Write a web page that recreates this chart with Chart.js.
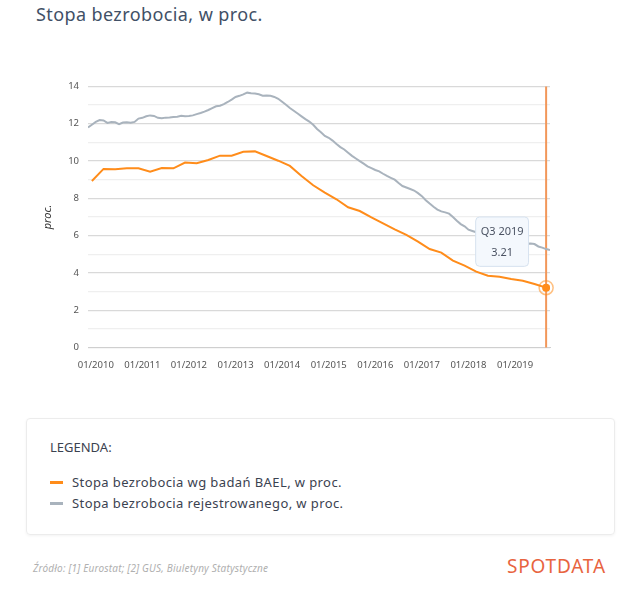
<!DOCTYPE html>
<html lang="pl">
<head>
<meta charset="utf-8">
<title>Stopa bezrobocia, w proc.</title>
<script src="https://cdn.jsdelivr.net/npm/chart.js@4.4.1/dist/chart.umd.min.js"></script>
<style>
  html, body { margin: 0; padding: 0; background: #fff; }
  body { width: 640px; height: 594px; position: relative; overflow: hidden; font-family: 'Noto Sans', sans-serif; }
  .title { position: absolute; left: 36px; top: 3px; font-size: 18px; line-height: 22px; letter-spacing: 0.4px; color: #415066; }
  .chart-box { position: absolute; left: 20px; top: 70px; width: 545px; height: 305px; }
  .legend-card { position: absolute; left: 26px; top: 418px; width: 587px; height: 115px; border: 1px solid #ececec; border-radius: 4px; box-shadow: 0 1px 3px rgba(0, 0, 0, 0.05); }
  .legend-head { position: absolute; left: 23px; top: 19px; font-size: 13px; line-height: 18px; color: #3b4250; }
  .legend-item { position: absolute; left: 23px; font-size: 13px; line-height: 18px; letter-spacing: 0.4px; color: #3b4250; }
  .legend-item i { display: inline-block; width: 13px; height: 3px; margin-right: 9px; vertical-align: middle; position: relative; top: -1px; }
  .source { position: absolute; left: 33px; top: 561px; font-size: 10px; line-height: 14px; letter-spacing: 0.2px; font-style: italic; color: #b0b0b0; }
  .logo { position: absolute; left: 507px; top: 554px; font-size: 19px; line-height: 24px; letter-spacing: 0.8px; color: #e8643f; }
</style>
</head>
<body>
<div class="title">Stopa bezrobocia, w proc.</div>
<div class="chart-box"><canvas id="chart"></canvas></div>
<div class="legend-card">
  <div class="legend-head">LEGENDA:</div>
  <div class="legend-item" style="top: 54px;"><i style="background: #ff8c1a;"></i>Stopa bezrobocia wg badań BAEL, w proc.</div>
  <div class="legend-item" style="top: 75px;"><i style="background: #a9b3bd;"></i>Stopa bezrobocia rejestrowanego, w proc.</div>
</div>
<div class="source">Źródło: [1] Eurostat; [2] GUS, Biuletyny Statystyczne</div>
<div class="logo">SPOTDATA</div>

<script>
// kwartały BAEL (Eurostat)
const quarterLabels = [
  'Q4 2009',
  'Q1 2010', 'Q2 2010', 'Q3 2010', 'Q4 2010',
  'Q1 2011', 'Q2 2011', 'Q3 2011', 'Q4 2011',
  'Q1 2012', 'Q2 2012', 'Q3 2012', 'Q4 2012',
  'Q1 2013', 'Q2 2013', 'Q3 2013', 'Q4 2013',
  'Q1 2014', 'Q2 2014', 'Q3 2014', 'Q4 2014',
  'Q1 2015', 'Q2 2015', 'Q3 2015', 'Q4 2015',
  'Q1 2016', 'Q2 2016', 'Q3 2016', 'Q4 2016',
  'Q1 2017', 'Q2 2017', 'Q3 2017', 'Q4 2017',
  'Q1 2018', 'Q2 2018', 'Q3 2018', 'Q4 2018',
  'Q1 2019', 'Q2 2019', 'Q3 2019',
];
const baelValues = [
  8.93,
  9.58, 9.56, 9.61, 9.61,
  9.43, 9.63, 9.61, 9.92,
  9.88, 10.06, 10.29, 10.29,
  10.5, 10.52, 10.27, 10.02,
  9.74, 9.2, 8.7, 8.31,
  7.95, 7.52, 7.32, 6.98,
  6.66, 6.34, 6.04, 5.68,
  5.28, 5.09, 4.66, 4.39,
  4.07, 3.85, 3.8, 3.67,
  3.58, 3.41, 3.21,
];

// bezrobocie rejestrowane (GUS), miesięcznie od 11/2009
const registeredStart = -2; // miesiące względem 01/2010
const registeredValues = [
  11.80, 11.95,
  12.10, 12.20, 12.18, 12.05, 12.10, 12.08, 11.98, 12.07, 12.08, 12.06, 12.10, 12.28,
  12.32, 12.40, 12.45, 12.42, 12.32, 12.30, 12.33, 12.34, 12.36, 12.38, 12.43, 12.40,
  12.42, 12.45, 12.52, 12.58, 12.65, 12.74, 12.84, 12.94, 12.97, 13.05, 13.17, 13.30,
  13.44, 13.50, 13.58, 13.67, 13.64, 13.62, 13.58, 13.51, 13.52, 13.50, 13.44, 13.34,
  13.18, 13.02, 12.85, 12.70, 12.55, 12.40, 12.25, 12.12, 11.95, 11.72, 11.55, 11.35,
  11.25, 11.10, 10.92, 10.75, 10.62, 10.45, 10.28, 10.14, 10.00, 9.86, 9.72, 9.62,
  9.52, 9.45, 9.32, 9.20, 9.10, 9.00, 8.82, 8.66, 8.58, 8.50, 8.42, 8.28,
  8.12, 7.90, 7.72, 7.55, 7.40, 7.30, 7.25, 7.18, 7.00, 6.80, 6.62, 6.50,
  6.32, 6.25, 6.18, 6.12, 6.06, 6.00, 5.95, 5.90, 5.85, 5.80, 5.74, 5.68,
  5.64, 5.60, 5.58, 5.57, 5.58, 5.55, 5.42, 5.36, 5.28, 5.23,
];

const tickMonths = [0, 12, 24, 36, 48, 60, 72, 84, 96, 108];
const tickLabels = ['01/2010', '01/2011', '01/2012', '01/2013', '01/2014', '01/2015', '01/2016', '01/2017', '01/2018', '01/2019'];

const ORANGE = '#ff8c1a';
const GREY = '#a9b3bd';

// kwartał rysowany w ostatnim miesiącu kwartału
function quarterToMonth(label) {
  const [q, year] = label.split(' ');
  return (Number(year) - 2010) * 12 + Number(q.slice(1)) * 3 - 1;
}

const baelPoints = baelValues.map((v, i) => ({ x: quarterToMonth(quarterLabels[i]), y: v }));
const registeredPoints = registeredValues.map((v, i) => ({ x: registeredStart + i, y: v }));

Chart.Tooltip.positioners.upLeft = function (items) {
  if (!items.length) return false;
  const el = items[0].element;
  return { x: el.x - 44, y: el.y - 46, xAlign: 'center', yAlign: 'center' };
};

const cursorLine = {
  id: 'cursorLine',
  beforeDatasetsDraw(chart) {
    const active = chart.tooltip.getActiveElements();
    if (!active.length) return;
    const x = active[0].element.x;
    const { ctx, chartArea } = chart;
    ctx.save();
    ctx.strokeStyle = '#f2975a';
    ctx.lineWidth = 2;
    ctx.beginPath();
    ctx.moveTo(x, chartArea.top);
    ctx.lineTo(x, chartArea.bottom);
    ctx.stroke();
    ctx.restore();
  },
  afterDatasetsDraw(chart) {
    const active = chart.tooltip.getActiveElements();
    if (!active.length) return;
    const { x, y } = active[0].element;
    const ctx = chart.ctx;
    ctx.save();
    ctx.strokeStyle = 'rgba(255, 140, 26, 0.55)';
    ctx.lineWidth = 1.5;
    ctx.beginPath();
    ctx.arc(x, y, 7, 0, Math.PI * 2);
    ctx.stroke();
    ctx.restore();
  },
};

Chart.defaults.font.family = "'Noto Sans', sans-serif";
Chart.defaults.color = '#555';

const chart = new Chart(document.getElementById('chart'), {
  type: 'line',
  data: {
    datasets: [
      {
        label: 'Stopa bezrobocia wg badań BAEL, w proc.',
        data: baelPoints,
        borderColor: ORANGE,
        backgroundColor: ORANGE,
        borderWidth: 2,
        pointRadius: 0,
        pointHoverRadius: 4,
        pointHoverBorderWidth: 0,
        pointHoverBackgroundColor: ORANGE,
        tension: 0,
      },
      {
        label: 'Stopa bezrobocia rejestrowanego, w proc.',
        data: registeredPoints,
        borderColor: GREY,
        backgroundColor: GREY,
        borderWidth: 2,
        pointRadius: 0,
        pointHoverRadius: 0,
        tension: 0,
      },
    ],
  },
  options: {
    responsive: true,
    maintainAspectRatio: false,
    animation: false,
    events: [],
    layout: { padding: { top: 16.5, right: 15, bottom: 0, left: 0 } },
    plugins: {
      legend: { display: false },
      tooltip: {
        position: 'upLeft',
        filter: (item) => item.datasetIndex === 0,
        backgroundColor: '#f4f8fd',
        borderColor: '#d6e2ef',
        borderWidth: 1,
        cornerRadius: 4,
        caretSize: 0,
        displayColors: false,
        titleColor: '#4b5363',
        bodyColor: '#4b5363',
        titleFont: { size: 11, weight: 'normal' },
        bodyFont: { size: 11 },
        titleAlign: 'center',
        bodyAlign: 'center',
        titleMarginBottom: 8,
        padding: { top: 8, bottom: 7, left: 5, right: 5 },
        callbacks: {
          title: (items) => quarterLabels[items[0].dataIndex],
          label: (item) => String(item.parsed.y),
        },
      },
    },
    scales: {
      x: {
        type: 'linear',
        min: registeredStart,
        max: registeredStart + registeredValues.length - 1,
        afterBuildTicks: (axis) => {
          axis.ticks = tickMonths.map((v) => ({ value: v }));
        },
        afterFit: (axis) => {
          axis.height = 27.5;
        },
        grid: { display: false },
        border: { color: '#cfcfcf', width: 1 },
        ticks: {
          autoSkip: false,
          maxRotation: 0,
          padding: 4,
          font: { size: 9.5 },
          color: '#555',
          callback: (value) => tickLabels[tickMonths.indexOf(value)],
        },
      },
      y: {
        min: 0,
        max: 14,
        afterFit: (axis) => {
          axis.width = 68;
        },
        border: { display: false },
        grid: {
          drawTicks: false,
          color: (ctx) => (ctx.tick.value % 2 === 0 ? '#d9d9d9' : '#efefef'),
          lineWidth: 1.3,
        },
        ticks: {
          stepSize: 1,
          padding: 9,
          font: { size: 9.5 },
          color: '#555',
          callback: (value) => (value % 2 === 0 ? value : ''),
        },
        title: {
          display: true,
          text: 'proc.',
          color: '#333',
          font: { size: 11, style: 'italic' },
          padding: { top: 21, bottom: 0 },
        },
      },
    },
  },
  plugins: [cursorLine],
});

const lastIndex = baelValues.length - 1;
chart.setActiveElements([{ datasetIndex: 0, index: lastIndex }]);
chart.tooltip.setActiveElements([{ datasetIndex: 0, index: lastIndex }], { x: 0, y: 0 });
chart.update();
</script>
</body>
</html>
